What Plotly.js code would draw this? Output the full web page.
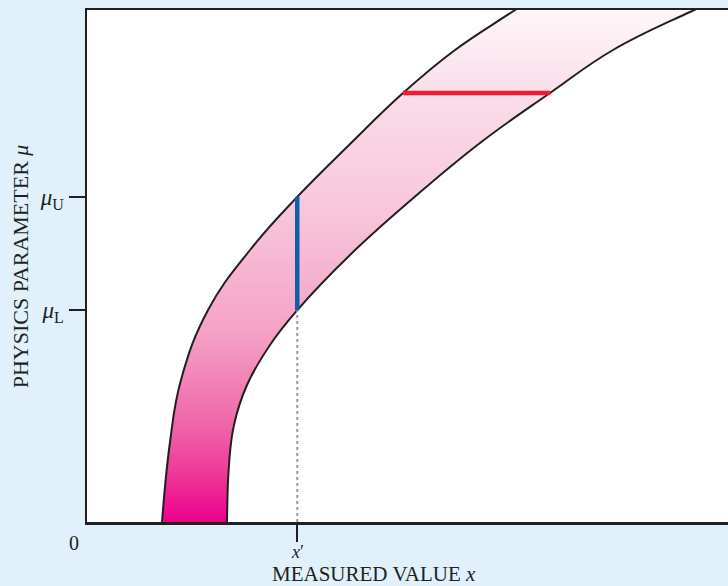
<!DOCTYPE html>
<html>
<head>
<meta charset="utf-8">
<script src="https://cdn.plot.ly/plotly-3.0.1.min.js"></script>
<style>
  html, body { margin: 0; padding: 0; background: #e0f1fb; }
  #chart { width: 728px; height: 586px; }
</style>
</head>
<body>
<div id="chart"></div>
<script>
// Confidence belt: for each value of the physics parameter mu, the band of
// measured values x that would be accepted. Curves run a little past the
// axis range so the clipped ends look continuous.
const leftX  = [1.154, 1.170, 1.295, 1.466, 1.888, 2.543, 3.280, 4.072, 4.930, 5.741, 6.630, 7.098];
const leftY  = [-0.281, 0.000, 1.250, 2.219, 3.313, 4.250, 5.080, 5.875, 6.703, 7.375, 7.969, 8.281];
const rightX = [2.184, 2.184, 2.215, 2.293, 2.496, 2.855, 3.280, 4.103, 5.055, 6.131, 7.223, 8.206, 9.407, 10.109];
const rightY = [-0.281, 0.000, 0.891, 1.516, 2.141, 2.766, 3.310, 4.172, 5.031, 5.922, 6.703, 7.375, 7.969, 8.281];

const xPrime = 3.28;
const muL = 3.31;
const muU = 5.08;

// Acceptance interval in x for one fixed mu
const muFixed = 6.703;
const accX = [4.93, 7.223];

const tickValsY = [muL, muU];
const tickTextY = ['<i>μ</i><sub>L</sub>', '<i>μ</i><sub>U</sub>'];
const tickValsX = [xPrime];
const tickTextX = ['<i>x</i>′'];

const ink = '#231f20';
const serif = 'Liberation Serif, Times New Roman, serif';

// closed outline of the belt for the gradient fill
const beltX = leftX.concat(rightX.slice().reverse());
const beltY = leftY.concat(rightY.slice().reverse());

const curve = { shape: 'spline', smoothing: 1.2 };

const traces = [
  {
    x: beltX, y: beltY, mode: 'lines', fill: 'toself',
    line: Object.assign({ width: 0 }, curve),
    fillgradient: {
      type: 'vertical', start: 0, stop: 8,
      colorscale: [
        [0.00, '#ec008c'],
        [0.10, '#ee3b99'],
        [0.20, '#f06aab'],
        [0.375, '#f4a3c7'],
        [0.63, '#f8c9dd'],
        [0.82, '#fadbe8'],
        [1.00, '#fef7fa']
      ]
    },
    hoverinfo: 'skip', showlegend: false
  },
  {
    x: leftX, y: leftY, mode: 'lines',
    line: Object.assign({ color: ink, width: 2 }, curve),
    hoverinfo: 'skip', showlegend: false
  },
  {
    x: rightX, y: rightY, mode: 'lines',
    line: Object.assign({ color: ink, width: 2 }, curve),
    hoverinfo: 'skip', showlegend: false
  },
  // guide from the lower limit down to the measured value
  {
    x: [xPrime, xPrime], y: [0, muL], mode: 'lines',
    line: { color: '#999999', width: 2, dash: '3px,3px' },
    hoverinfo: 'skip', showlegend: false
  },
  // confidence interval at x'
  {
    x: [xPrime, xPrime], y: [muL, muU], mode: 'lines',
    line: { color: '#0f5fa6', width: 4.5 },
    hoverinfo: 'skip', showlegend: false
  },
  // acceptance interval at fixed mu
  {
    x: accX, y: [muFixed, muFixed], mode: 'lines',
    line: { color: '#ee1c2e', width: 4.5 },
    hoverinfo: 'skip', showlegend: false
  }
];

const layout = {
  width: 728, height: 586,
  margin: { l: 87, r: 0, t: 10, b: 64 },
  paper_bgcolor: '#e0f1fb',
  plot_bgcolor: '#ffffff',
  font: { family: serif, size: 20, color: ink },
  showlegend: false,
  xaxis: {
    range: [0, 10], showgrid: false, zeroline: false,
    showline: true, linecolor: ink, linewidth: 2.5, mirror: true,
    tickmode: 'array', tickvals: tickValsX, showticklabels: false,
    ticks: 'outside', ticklen: 17, tickwidth: 2, tickcolor: ink
  },
  yaxis: {
    range: [0, 8], showgrid: false, zeroline: false,
    showline: true, linecolor: ink, linewidth: 2.5, mirror: false,
    tickmode: 'array', tickvals: tickValsY, ticktext: tickTextY,
    ticks: 'outside', ticklen: 16, tickwidth: 2, tickcolor: ink,
    tickfont: { family: serif, size: 23, color: ink }
  },
  annotations: [
    {
      text: tickTextX[0], x: tickValsX[0], y: 0, xref: 'x', yref: 'y',
      xanchor: 'center', yanchor: 'top', yshift: -18,
      showarrow: false, font: { family: serif, size: 18, color: ink }
    },
    {
      text: '0', x: 0, y: 0, xref: 'x', yref: 'y',
      xanchor: 'right', yanchor: 'top', xshift: -6, yshift: -8,
      showarrow: false, font: { family: serif, size: 20, color: ink }
    },
    {
      text: 'MEASURED VALUE <i>x</i>', x: 0.448, y: 0, xref: 'paper', yref: 'paper',
      xanchor: 'center', yanchor: 'bottom', yshift: -66,
      showarrow: false, font: { family: serif, size: 21, color: ink }
    },
    {
      text: 'PHYSICS PARAMETER <i>μ</i>', x: -0.104, y: 0.5, xref: 'paper', yref: 'paper',
      xanchor: 'center', yanchor: 'middle', textangle: -90,
      showarrow: false, font: { family: serif, size: 22, color: ink }
    }
  ]
};

Plotly.newPlot('chart', traces, layout, { staticPlot: true, displayModeBar: false });
</script>
</body>
</html>
